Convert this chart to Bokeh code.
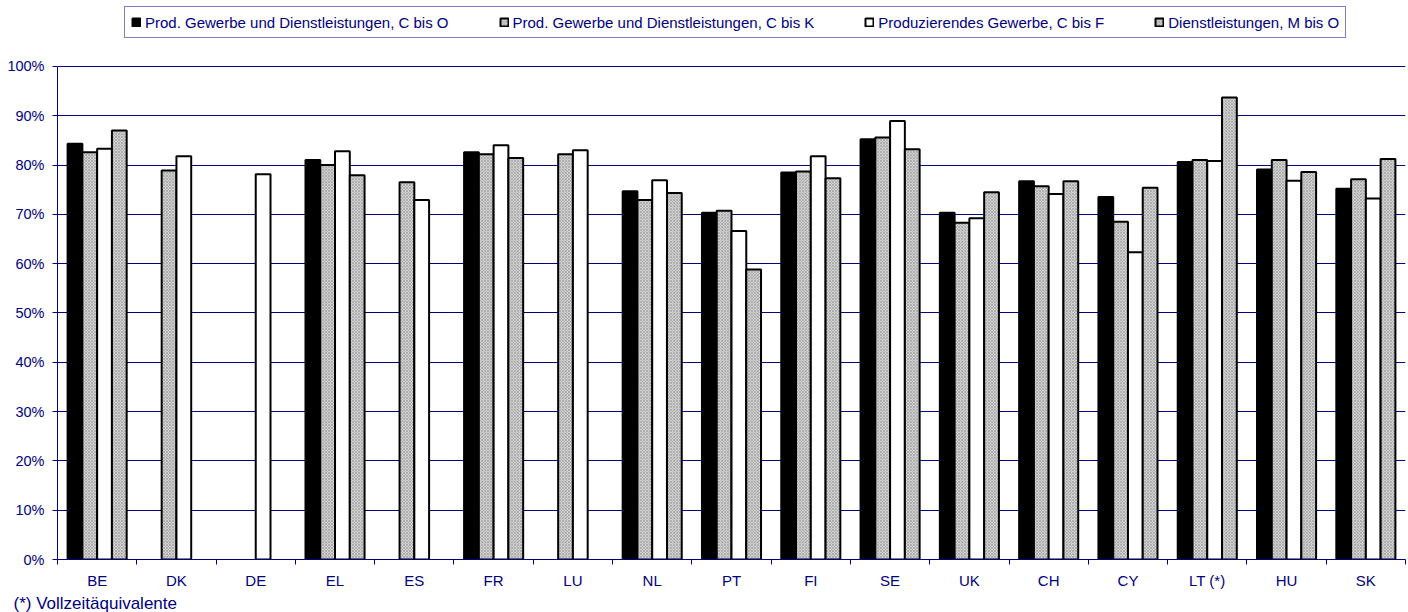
import math
from bokeh.plotting import figure
from bokeh.models import (ColumnDataSource, FixedTicker, LinearAxis, Legend,
                          LegendItem, Range1d, Title, PrintfTickFormatter, Grid)
from bokeh.embed import file_html
from bokeh.resources import INLINE

countries = ["BE", "DK", "DE", "EL", "ES", "FR", "LU", "NL", "PT", "FI",
             "SE", "UK", "CH", "CY", "LT (*)", "HU", "SK"]
nan = float("nan")
c_bis_o = [84.3, nan, nan, 81.0, nan, 82.6, nan, 74.7, 70.3, 78.5,
           85.2, 70.3, 76.7, 73.5, 80.6, 79.1, 75.2]
c_bis_k = [82.6, 78.9, nan, 80.0, 76.5, 82.2, 82.2, 72.9, 70.7, 78.7,
           85.6, 68.3, 75.7, 68.5, 81.0, 81.0, 77.1]
c_bis_f = [83.3, 81.8, 78.1, 82.8, 72.9, 84.0, 83.0, 76.9, 66.6, 81.8,
           88.9, 69.2, 74.1, 62.3, 80.8, 76.8, 73.2]
m_bis_o = [87.0, nan, nan, 77.9, nan, 81.4, nan, 74.3, 58.8, 77.3,
           83.2, 74.5, 76.7, 75.4, 93.7, 78.6, 81.2]
series_names = ["Prod. Gewerbe und Dienstleistungen, C bis O",
                "Prod. Gewerbe und Dienstleistungen, C bis K",
                "Produzierendes Gewerbe, C bis F",
                "Dienstleistungen, M bis O"]
y_ticks = [0, 10, 20, 30, 40, 50, 60, 70, 80, 90, 100]
footnote = "(*) Vollzeitäquivalente"

NAVY = "#000080"
FONT = "Liberation Sans"

# the frame runs to the top edge; the space above 100 % holds the legend
p = figure(width=1408, height=612, output_backend="svg", toolbar_location=None,
           x_range=Range1d(0, len(countries)), y_range=Range1d(0, 113.36),
           x_axis_type=None, y_axis_type=None,
           min_border_left=57, min_border_right=3, min_border_top=0,
           min_border_bottom=52)
p.outline_line_color = None
p.background_fill_color = "white"

# y axis with percent labels, line limited to 0-100 %
yaxis = LinearAxis(ticker=FixedTicker(ticks=y_ticks),
                   formatter=PrintfTickFormatter(format="%d%%"),
                   bounds=(0, 100))
yaxis.axis_line_color = NAVY
yaxis.major_tick_line_color = NAVY
yaxis.major_tick_out = 5
yaxis.major_tick_in = 0
yaxis.minor_tick_line_color = None
yaxis.major_label_text_color = NAVY
yaxis.major_label_text_font = FONT
yaxis.major_label_text_font_size = "14.5px"
yaxis.major_label_standoff = 8
p.add_layout(yaxis, "left")

# x axis: labels at group centres, tick marks between groups
centers = [i + 0.5 for i in range(len(countries))]
xaxis = LinearAxis(ticker=FixedTicker(ticks=centers,
                                      minor_ticks=list(range(len(countries) + 1))))
xaxis.major_label_overrides = {c: name for c, name in zip(centers, countries)}
xaxis.axis_line_color = NAVY
xaxis.major_tick_line_color = None
xaxis.major_tick_out = 5
xaxis.major_tick_in = 0
xaxis.minor_tick_line_color = NAVY
xaxis.minor_tick_out = 5
xaxis.minor_tick_in = 0
xaxis.major_label_text_color = NAVY
xaxis.major_label_text_font = FONT
xaxis.major_label_text_font_size = "15px"
xaxis.major_label_standoff = 7
p.add_layout(xaxis, "below")

p.ygrid.visible = False
grid = Grid(dimension=1, ticker=FixedTicker(ticks=y_ticks),
            grid_line_color=NAVY, grid_line_width=1)
p.add_layout(grid, "center")

group_width = 0.745
bw = group_width / 4
offsets = [-1.5 * bw, -0.5 * bw, 0.5 * bw, 1.5 * bw]
grey_fill = dict(fill_color="#cfcfcf", hatch_pattern="x", hatch_scale=3,
                 hatch_color="#9a9a9a", hatch_weight=0.6)
styles = [dict(fill_color="black"), grey_fill, dict(fill_color="white"), grey_fill]

items = []
for vals, off, st, name in zip([c_bis_o, c_bis_k, c_bis_f, m_bis_o],
                               offsets, styles, series_names):
    xs = [c + off for c, v in zip(centers, vals) if not math.isnan(v)]
    tops = [v for v in vals if not math.isnan(v)]
    src = ColumnDataSource(dict(x=xs, top=tops))
    r = p.vbar(x="x", top="top", bottom=0, width=bw, source=src,
               line_color="black", line_width=2, **st)
    items.append(LegendItem(label=name, renderers=[r]))

# legend boxed in navy across the top
legend = Legend(items=items, orientation="horizontal", location=(67, 521))
legend.border_line_color = NAVY
legend.border_line_width = 1
legend.background_fill_alpha = 1
legend.label_text_font = FONT
legend.label_text_font_size = "15px"
legend.label_text_color = NAVY
legend.label_height = 18
legend.glyph_width = 10
legend.glyph_height = 10
legend.label_standoff = 4
legend.spacing = 50
legend.padding = 6
legend.margin = 0
p.add_layout(legend, "center")

note = Title(text=footnote, align="left", offset=-44, standoff=0,
             text_font=FONT, text_font_size="17px",
             text_font_style="normal", text_color=NAVY)
p.add_layout(note, "below")

open("out.html", "w").write(file_html(p, INLINE))
